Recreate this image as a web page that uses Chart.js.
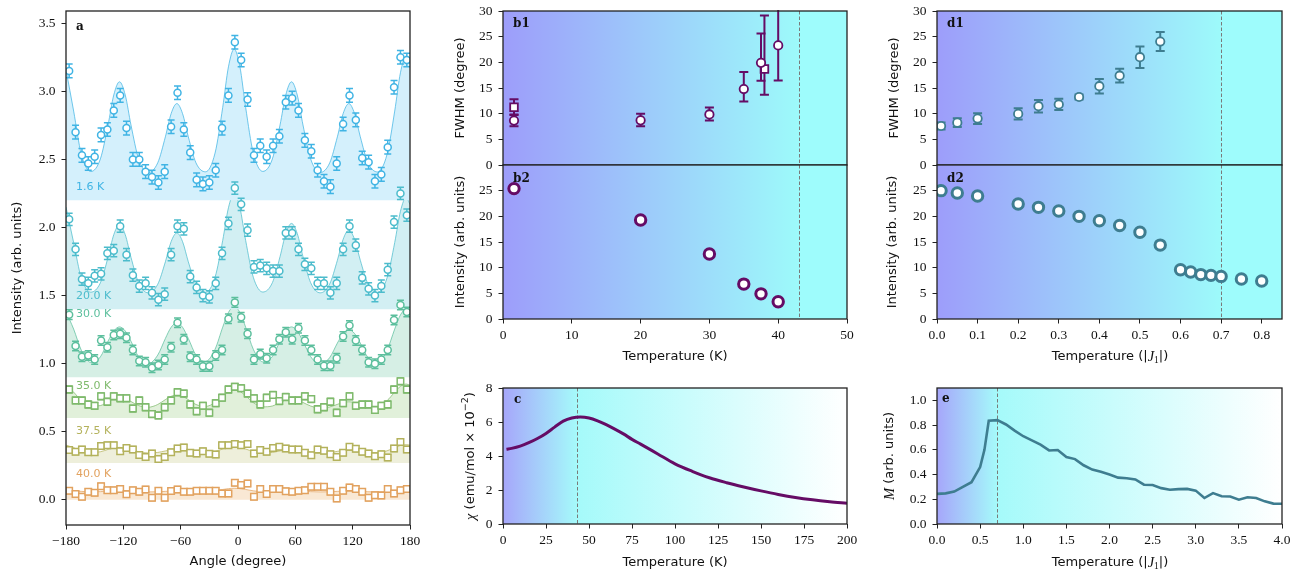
<!DOCTYPE html>
<html>
<head>
<meta charset="utf-8">
<script src="https://cdn.jsdelivr.net/npm/chart.js@4.4.1/dist/chart.umd.min.js"></script>
<style>
	html, body { margin: 0; padding: 0; background: #fff; }
	#wrap { position: relative; width: 1300px; height: 570px; overflow: hidden; }
	canvas { position: absolute; }
</style>
</head>
<body>
<div id="wrap">
	<canvas id="pa"></canvas>
	<canvas id="pb1"></canvas>
	<canvas id="pb2"></canvas>
	<canvas id="pc"></canvas>
	<canvas id="pd1"></canvas>
	<canvas id="pd2"></canvas>
	<canvas id="pe"></canvas>
</div>
<script>
// ---- panel a: angular scans ----
const angles = [-176.7, -170.0, -163.3, -156.7, -150.0, -143.3, -136.7, -130.0, -123.3, -116.7, -110.0, -103.3, -96.7, -90.0, -83.3, -76.7, -70.0, -63.3, -56.7, -50.0, -43.3, -36.7, -30.0, -23.3, -16.7, -10.0, -3.3, 3.3, 10.0, 16.7, 23.3, 30.0, 36.7, 43.3, 50.0, 56.7, 63.3, 70.0, 76.7, 83.3, 90.0, 96.7, 103.3, 110.0, 116.7, 123.3, 130.0, 136.7, 143.3, 150.0, 156.7, 163.3, 170.0, 176.7];
const scan16 = [3.15, 2.70, 2.53, 2.47, 2.52, 2.68, 2.72, 2.86, 2.97, 2.73, 2.50, 2.50, 2.41, 2.37, 2.33, 2.41, 2.74, 2.99, 2.72, 2.55, 2.35, 2.32, 2.33, 2.42, 2.73, 2.97, 3.36, 3.23, 2.94, 2.53, 2.60, 2.52, 2.60, 2.67, 2.92, 2.95, 2.86, 2.64, 2.56, 2.42, 2.34, 2.30, 2.47, 2.76, 2.97, 2.79, 2.51, 2.48, 2.34, 2.39, 2.59, 3.03, 3.25, 3.23];
const scan20 = [2.06, 1.84, 1.62, 1.59, 1.645, 1.66, 1.81, 1.83, 2.01, 1.80, 1.65, 1.57, 1.59, 1.52, 1.47, 1.51, 1.80, 2.01, 1.99, 1.64, 1.56, 1.50, 1.49, 1.59, 1.81, 2.03, 2.29, 2.17, 1.98, 1.71, 1.72, 1.70, 1.68, 1.68, 1.96, 1.96, 1.84, 1.73, 1.70, 1.59, 1.59, 1.52, 1.59, 1.84, 2.01, 1.87, 1.63, 1.55, 1.50, 1.57, 1.69, 2.04, 2.25, 2.09];
const scan30 = [1.36, 1.13, 1.05, 1.06, 1.03, 1.17, 1.12, 1.21, 1.22, 1.19, 1.10, 1.02, 1.01, 0.97, 0.99, 1.03, 1.12, 1.30, 1.18, 1.05, 1.03, 0.98, 0.98, 1.06, 1.10, 1.33, 1.45, 1.34, 1.22, 1.03, 1.07, 1.04, 1.10, 1.18, 1.23, 1.18, 1.26, 1.17, 1.10, 1.03, 0.985, 0.985, 1.04, 1.20, 1.28, 1.17, 1.10, 1.01, 1.00, 1.03, 1.10, 1.32, 1.43, 1.38];
const scan35 = [0.81, 0.73, 0.73, 0.70, 0.69, 0.76, 0.72, 0.76, 0.745, 0.745, 0.67, 0.73, 0.68, 0.63, 0.62, 0.68, 0.73, 0.79, 0.78, 0.70, 0.65, 0.69, 0.64, 0.71, 0.75, 0.81, 0.83, 0.82, 0.78, 0.745, 0.70, 0.75, 0.77, 0.725, 0.755, 0.73, 0.73, 0.76, 0.74, 0.665, 0.68, 0.72, 0.64, 0.71, 0.76, 0.69, 0.70, 0.70, 0.66, 0.69, 0.70, 0.81, 0.87, 0.81];
const scan375 = [0.365, 0.353, 0.37, 0.35, 0.35, 0.395, 0.40, 0.40, 0.357, 0.38, 0.37, 0.33, 0.315, 0.34, 0.30, 0.315, 0.35, 0.377, 0.385, 0.345, 0.34, 0.356, 0.338, 0.333, 0.40, 0.40, 0.41, 0.40, 0.41, 0.34, 0.365, 0.353, 0.38, 0.39, 0.377, 0.37, 0.37, 0.345, 0.328, 0.37, 0.36, 0.335, 0.315, 0.345, 0.39, 0.375, 0.353, 0.34, 0.32, 0.335, 0.31, 0.377, 0.425, 0.37];
const scan40 = [0.066, 0.042, 0.022, 0.059, 0.052, 0.10, 0.071, 0.071, 0.079, 0.04, 0.071, 0.059, 0.076, 0.015, 0.066, 0.015, 0.064, 0.076, 0.059, 0.059, 0.066, 0.066, 0.066, 0.066, 0.047, 0.047, 0.125, 0.108, 0.12, 0.022, 0.079, 0.042, 0.079, 0.079, 0.062, 0.059, 0.066, 0.071, 0.096, 0.096, 0.096, 0.059, 0.01, 0.066, 0.091, 0.079, 0.059, 0.015, 0.034, 0.032, 0.079, 0.047, 0.071, 0.079];

const fitAngles = [-180, -172, -164, -154, -144, -136, -130, -124, -118, -112, -104, -94, -84, -76, -70, -64, -58, -52, -44, -34, -24, -16, -10, -4, 2, 8, 16, 26, 36, 44, 50, 56, 62, 68, 76, 86, 96, 104, 110, 116, 122, 128, 136, 146, 156, 164, 170, 176, 180];
const fit16 = [3.16, 2.855, 2.538, 2.411, 2.504, 2.753, 2.973, 3.07, 2.973, 2.753, 2.504, 2.404, 2.475, 2.666, 2.836, 2.91, 2.836, 2.666, 2.475, 2.409, 2.547, 2.882, 3.18, 3.31, 3.18, 2.882, 2.547, 2.412, 2.504, 2.753, 2.973, 3.07, 2.973, 2.753, 2.504, 2.404, 2.475, 2.666, 2.836, 2.91, 2.836, 2.666, 2.475, 2.408, 2.538, 2.855, 3.137, 3.26, 3.20];
const fit20 = [2.15, 1.889, 1.63, 1.525, 1.594, 1.781, 1.947, 2.02, 1.947, 1.781, 1.594, 1.52, 1.583, 1.748, 1.896, 1.96, 1.896, 1.748, 1.583, 1.524, 1.635, 1.905, 2.145, 2.25, 2.145, 1.905, 1.635, 1.526, 1.595, 1.786, 1.956, 2.03, 1.956, 1.786, 1.595, 1.52, 1.586, 1.759, 1.913, 1.98, 1.913, 1.759, 1.586, 1.524, 1.63, 1.889, 2.119, 2.22, 2.17];
const fit30 = [1.381, 1.254, 1.099, 1.009, 1.05, 1.165, 1.24, 1.27, 1.24, 1.165, 1.05, 0.999, 1.063, 1.185, 1.267, 1.30, 1.267, 1.185, 1.063, 1.016, 1.106, 1.268, 1.376, 1.42, 1.376, 1.268, 1.106, 1.013, 1.052, 1.165, 1.239, 1.27, 1.239, 1.165, 1.052, 0.996, 1.045, 1.151, 1.221, 1.25, 1.221, 1.151, 1.045, 1.009, 1.099, 1.254, 1.358, 1.40, 1.381];
const fit35 = [0.842, 0.791, 0.728, 0.688, 0.692, 0.722, 0.742, 0.75, 0.742, 0.722, 0.692, 0.68, 0.70, 0.736, 0.76, 0.77, 0.76, 0.736, 0.70, 0.686, 0.714, 0.764, 0.797, 0.81, 0.797, 0.764, 0.714, 0.683, 0.689, 0.715, 0.733, 0.74, 0.733, 0.715, 0.689, 0.674, 0.682, 0.701, 0.715, 0.72, 0.715, 0.701, 0.682, 0.685, 0.728, 0.791, 0.833, 0.85, 0.842];
const fit375 = [0.402, 0.383, 0.36, 0.347, 0.353, 0.37, 0.381, 0.385, 0.381, 0.37, 0.353, 0.344, 0.348, 0.359, 0.367, 0.37, 0.367, 0.359, 0.348, 0.344, 0.355, 0.373, 0.385, 0.39, 0.385, 0.373, 0.355, 0.344, 0.348, 0.359, 0.367, 0.37, 0.367, 0.359, 0.348, 0.342, 0.346, 0.356, 0.362, 0.365, 0.362, 0.356, 0.346, 0.345, 0.36, 0.383, 0.399, 0.405, 0.402];
const fit40 = [0.074, 0.066, 0.062, 0.059, 0.06, 0.065, 0.068, 0.07, 0.068, 0.065, 0.06, 0.058, 0.059, 0.062, 0.064, 0.065, 0.064, 0.062, 0.059, 0.059, 0.066, 0.076, 0.082, 0.085, 0.082, 0.076, 0.066, 0.06, 0.06, 0.065, 0.068, 0.07, 0.068, 0.065, 0.06, 0.058, 0.059, 0.062, 0.064, 0.065, 0.064, 0.062, 0.059, 0.058, 0.062, 0.066, 0.072, 0.075, 0.074];

const scanLabels = ['1.6 K', '20.0 K', '30.0 K', '35.0 K', '37.5 K', '40.0 K'];
const scanBase = [2.2, 1.4, 0.9, 0.6, 0.27, 0.0];
const scanErr = [0.05, 0.045, 0.035, 0.025, 0.022, 0.022];
const scanLabelY = [2.30, 1.493, 1.363, 0.836, 0.505, 0.189];
const aXTicks = [-180, -120, -60, 0, 60, 120, 180];
const aYTicks = [0, 0.5, 1, 1.5, 2, 2.5, 3, 3.5];

// ---- panels b: experiment vs temperature ----
const b1CircT = [1.6, 20, 30, 35, 37.5, 40];
const b1CircW = [8.65, 8.7, 9.85, 14.8, 19.9, 23.3];
const b1CircLo = [1.1, 1.15, 1.2, 2.45, 3.5, 6.85];
const b1CircHi = [1.2, 1.3, 1.35, 3.3, 5.7, 8.0];
const b1SqT = [1.6, 38];
const b1SqW = [11.25, 18.7];
const b1SqLo = [1.5, 5.0];
const b1SqHi = [1.55, 10.4];
const b2T = [1.6, 20, 30, 35, 37.5, 40];
const b2I = [25.4, 19.3, 12.65, 6.8, 4.9, 3.35];
const bXTicks = [0, 10, 20, 30, 40, 50];
const tcKelvin = 43;

// ---- panel c: susceptibility ----
const cT = [2, 5, 10, 15, 20, 25, 30, 35, 40, 45, 50, 55, 60, 65, 70, 75, 80, 90, 100, 110, 120, 130, 140, 150, 160, 170, 180, 190, 200];
const cChi = [4.40, 4.45, 4.58, 4.78, 5.03, 5.33, 5.70, 6.05, 6.24, 6.30, 6.24, 6.07, 5.84, 5.58, 5.30, 4.98, 4.70, 4.12, 3.54, 3.10, 2.72, 2.43, 2.18, 1.95, 1.74, 1.56, 1.42, 1.31, 1.22];
const cXTicks = [0, 25, 50, 75, 100, 125, 150, 175, 200];
const cYTicks = [0, 2, 4, 6, 8];

// ---- panels d: simulation vs temperature ----
const d1T = [0.01, 0.05, 0.1, 0.2, 0.25, 0.3, 0.35, 0.4, 0.45, 0.5, 0.55];
const d1W = [7.6, 8.25, 9.05, 9.95, 11.45, 11.8, 13.25, 15.35, 17.4, 21.0, 24.05];
const d1Err = [0.7, 0.85, 1.05, 1.1, 1.2, 1.1, 0.5, 1.4, 1.35, 2.1, 1.85];
const d2T = [0.01, 0.05, 0.1, 0.2, 0.25, 0.3, 0.35, 0.4, 0.45, 0.5, 0.55, 0.6, 0.625, 0.65, 0.675, 0.7, 0.75, 0.8];
const d2I = [25.0, 24.55, 23.95, 22.4, 21.75, 21.05, 20.0, 19.15, 18.2, 16.9, 14.4, 9.6, 9.15, 8.65, 8.5, 8.3, 7.8, 7.4];
const dXTicks = [0, 0.1, 0.2, 0.3, 0.4, 0.5, 0.6, 0.7, 0.8];
const tcJ = 0.7;

// ---- panel e: magnetisation ----
const eT = [0, 0.1, 0.2, 0.3, 0.4, 0.5, 0.55, 0.6, 0.7, 0.8, 0.9, 1.0, 1.1, 1.2, 1.3, 1.4, 1.5, 1.6, 1.7, 1.8, 1.9, 2.0, 2.1, 2.2, 2.3, 2.4, 2.5, 2.6, 2.7, 2.8, 2.9, 3.0, 3.1, 3.2, 3.3, 3.4, 3.5, 3.6, 3.7, 3.8, 3.9, 4.0];
const eM = [0.244, 0.248, 0.262, 0.30, 0.338, 0.46, 0.60, 0.835, 0.84, 0.805, 0.755, 0.71, 0.677, 0.642, 0.595, 0.598, 0.542, 0.525, 0.475, 0.44, 0.422, 0.40, 0.375, 0.37, 0.36, 0.318, 0.316, 0.29, 0.277, 0.282, 0.284, 0.27, 0.21, 0.25, 0.224, 0.223, 0.197, 0.216, 0.21, 0.183, 0.165, 0.164];
const eXTicks = [0, 0.5, 1, 1.5, 2, 2.5, 3, 3.5, 4];
const eYTicks = [0, 0.2, 0.4, 0.6, 0.8, 1.0];
const wTicks = [0, 5, 10, 15, 20, 25, 30];
const iTicks = [0, 5, 10, 15, 20, 25];

// colours
const scanColors = ['#40b4e4', '#4cbccc', '#5cbf9d', '#7fba6c', '#b4b25c', '#e2a25f'];
const scanFills = ['#d4f0fc', '#d2eff3', '#d6efe5', '#e1f0da', '#eeefdb', '#f9e8d4'];
const purple = '#650c65';
const teal = '#3e7d90';

const sans = '"DejaVu Sans", sans-serif';
const serif = '"Liberation Serif", serif';
const tickFont = { family: serif, size: 13.5 };
Chart.defaults.font.family = serif;

const minus = (s) => s.replace('-', '\u2212');
const fmtInt = (v) => minus(String(Math.round(v)));
const fmt1 = (v) => minus(v.toFixed(1));

const pts = (xs, ys) => xs.map((x, i) => ({ x, y: ys[i] }));

const axis = (min, max, ticks, fmt, prop, size) => ({
	type: 'linear',
	min,
	max,
	afterBuildTicks: (s) => { s.ticks = ticks.map((value) => ({ value })); },
	afterFit: (s) => { s[prop] = size; },
	border: { display: false },
	grid: { drawOnChartArea: false, drawTicks: true, tickLength: 4.5, tickColor: '#222', tickWidth: 1 },
	ticks: { callback: fmt, font: tickFont, color: '#111', padding: prop === 'width' ? 6 : 4, maxRotation: 0, minRotation: 0, autoSkip: false },
});

const drawRich = (ctx, parts, x, y, rot) => {
	ctx.save();
	ctx.translate(x, y);
	if (rot) ctx.rotate(rot);
	ctx.textBaseline = 'middle';
	ctx.fillStyle = '#111';
	let w = 0;
	parts.forEach((p) => { ctx.font = p.f; w += ctx.measureText(p.t).width; });
	let cx = -w / 2;
	parts.forEach((p) => {
		ctx.font = p.f;
		ctx.fillText(p.t, cx, p.dy || 0);
		cx += ctx.measureText(p.t).width;
	});
	ctx.restore();
};

const sansFont = '13px ' + sans;
const ital = 'italic 14.5px ' + serif;
const txt = (t) => [{ t, f: sansFont }];
const tempJ = [{ t: 'Temperature (|', f: sansFont }, { t: 'J', f: ital }, { t: '1', f: '9.5px ' + serif, dy: 3 }, { t: '|)', f: sansFont }];

// background gradient, dashed Tc line, frame, titles
const panelPlugin = {
	id: 'panel',
	beforeDraw(chart, args, o) {
		const { ctx, chartArea: a, scales: { x } } = chart;
		if (o.stops) {
			const g = ctx.createLinearGradient(a.left, 0, a.right, 0);
			o.stops.forEach(([v, c]) => {
				const f = (x.getPixelForValue(v) - a.left) / a.width;
				g.addColorStop(Math.min(1, Math.max(0, f)), c);
			});
			ctx.save();
			ctx.fillStyle = g;
			ctx.fillRect(a.left, a.top, a.width, a.height);
			ctx.restore();
		}
	},
	beforeDatasetsDraw(chart, args, o) {
		if (o.vline === undefined) return;
		const { ctx, chartArea: a, scales: { x } } = chart;
		const px = Math.round(x.getPixelForValue(o.vline)) + 0.5;
		ctx.save();
		ctx.strokeStyle = '#7a7a7a';
		ctx.lineWidth = 1;
		ctx.setLineDash([3.5, 2]);
		ctx.beginPath();
		ctx.moveTo(px, a.top);
		ctx.lineTo(px, a.bottom);
		ctx.stroke();
		ctx.restore();
	},
	afterDraw(chart, args, o) {
		const { ctx, chartArea: a } = chart;
		ctx.save();
		ctx.strokeStyle = '#222';
		ctx.lineWidth = 1.3;
		ctx.strokeRect(a.left, a.top, a.width, a.height);
		const [ox, oy] = o.page;
		if (o.letter) {
			ctx.font = 'bold 12px "DejaVu Serif", serif';
			ctx.fillStyle = '#111';
			ctx.textBaseline = 'alphabetic';
			ctx.fillText(o.letter[0], o.letter[1] - ox, o.letter[2] - oy);
		}
		(o.titles || []).forEach((t) => drawRich(ctx, t.parts, t.x - ox, t.y - oy, t.rot ? -Math.PI / 2 : 0));
		ctx.restore();
	},
};

// error bars under the markers of a dataset
const errorBarPlugin = {
	id: 'errorBars',
	beforeDatasetDraw(chart, { index }) {
		const ds = chart.data.datasets[index];
		if (!ds.errLo) return;
		const { ctx, chartArea: a, scales: { x, y } } = chart;
		ctx.save();
		ctx.beginPath();
		ctx.rect(a.left, a.top - 1, a.width, a.height + 2);
		ctx.clip();
		ctx.strokeStyle = ds.borderColor;
		ctx.lineWidth = ds.errWidth || 1.4;
		const cap = ds.capSize || 3.5;
		ds.data.forEach((p, i) => {
			const px = x.getPixelForValue(p.x);
			const y1 = y.getPixelForValue(p.y - ds.errLo[i]);
			const y2 = y.getPixelForValue(p.y + ds.errHi[i]);
			ctx.beginPath();
			ctx.moveTo(px, y1); ctx.lineTo(px, y2);
			ctx.moveTo(px - cap, y1); ctx.lineTo(px + cap, y1);
			ctx.moveTo(px - cap, y2); ctx.lineTo(px + cap, y2);
			ctx.stroke();
		});
		ctx.restore();
	},
};

// temperature tags inside panel a
const scanTagPlugin = {
	id: 'scanTags',
	afterDatasetsDraw(chart) {
		const { ctx, scales: { x, y } } = chart;
		ctx.save();
		ctx.font = '11px ' + sans;
		ctx.textBaseline = 'middle';
		scanLabels.forEach((t, i) => {
			ctx.fillStyle = scanColors[i];
			ctx.fillText(t, x.getPixelForValue(-169.5), y.getPixelForValue(scanLabelY[i]));
		});
		ctx.restore();
	},
};

const makeChart = (id, box, data, scales, panel, extra = []) => {
	const el = document.getElementById(id);
	el.width = box.w;
	el.height = box.h;
	el.style.left = box.left + 'px';
	el.style.top = box.top + 'px';
	panel.page = [box.left, box.top];
	return new Chart(el, {
		type: 'scatter',
		data,
		options: {
			responsive: false,
			animation: false,
			events: [],
			layout: { padding: box.pad },
			plugins: { legend: { display: false }, tooltip: { enabled: false }, panel },
			scales,
		},
		plugins: [panelPlugin, errorBarPlugin, ...extra],
	});
};

const bStops = [[0, 'rgb(157,157,250)'], [tcKelvin, 'rgb(157,250,250)'], [tcKelvin + 0.01, 'rgb(158,252,252)'], [50, 'rgb(158,252,252)']];
const dStops = [[0, 'rgb(157,157,250)'], [tcJ, 'rgb(157,250,250)'], [tcJ + 0.001, 'rgb(158,252,252)'], [0.85, 'rgb(158,252,252)']];
const cStops = [[0, 'rgb(166,166,250)'], [tcKelvin, 'rgb(165,250,250)'], [200, 'rgb(255,255,255)']];
const eStops = [[0, 'rgb(166,166,250)'], [tcJ, 'rgb(165,250,250)'], [4, 'rgb(255,255,255)']];

// ---- build panel a ----
const scans = [scan16, scan20, scan30, scan35, scan375, scan40];
const fits = [fit16, fit20, fit30, fit35, fit375, fit40];
const aSets = [];
scans.forEach((s, i) => {
	aSets.push({
		data: pts(angles, s),
		order: 0,
		pointStyle: i < 3 ? 'circle' : 'rect',
		pointRadius: i < 3 ? 3.5 : 4.6,
		pointBorderWidth: 1.5,
		borderColor: scanColors[i],
		pointBackgroundColor: '#fff',
		errLo: s.map(() => scanErr[i]),
		errHi: s.map(() => scanErr[i]),
		errWidth: 1.5,
		capSize: 3.5,
	});
});
fits.forEach((f, i) => {
	aSets.push({
		type: 'line',
		data: pts(fitAngles, f),
		order: 1,
		showLine: true,
		pointRadius: 0,
		borderWidth: 1,
		borderColor: scanColors[i] + 'bb',
		backgroundColor: scanFills[i],
		fill: { value: scanBase[i] },
		cubicInterpolationMode: 'monotone',
	});
});

// canvases start 15px above their plot area so the tick-label padding never moves it
makeChart('pa', { left: 0, top: -4, w: 425, h: 574, pad: { left: 0, top: 15, right: 15, bottom: 0 } },
	{ datasets: aSets },
	{
		x: axis(-180, 180, aXTicks, fmtInt, 'height', 45),
		y: axis(-0.185, 3.59, aYTicks, fmt1, 'width', 66),
	},
	{
		letter: ['a', 76, 30],
		titles: [
			{ parts: txt('Intensity (arb. units)'), x: 18, y: 268, rot: true },
			{ parts: txt('Angle (degree)'), x: 238, y: 562 },
		],
	},
	[scanTagPlugin]);

// ---- b1 ----
makeChart('pb1', { left: 440, top: -4, w: 422, h: 184, pad: { left: 0, top: 15, right: 15, bottom: 15 } },
	{
		datasets: [
			{
				data: pts(b1CircT, b1CircW), pointStyle: 'circle', pointRadius: 4.2, pointBorderWidth: 1.8,
				borderColor: purple, pointBackgroundColor: '#fff', errLo: b1CircLo, errHi: b1CircHi, errWidth: 2, capSize: 4.5,
			},
			{
				data: pts(b1SqT, b1SqW), pointStyle: 'rect', pointRadius: 5.4, pointBorderWidth: 1.8,
				borderColor: purple, pointBackgroundColor: '#fff', errLo: b1SqLo, errHi: b1SqHi, errWidth: 2, capSize: 4.5,
			},
		],
	},
	{
		x: { type: 'linear', min: 0, max: 50, display: false },
		y: axis(0, 30, wTicks, fmtInt, 'width', 63),
	},
	{
		stops: bStops, vline: tcKelvin, letter: ['b1', 513, 27],
		titles: [{ parts: txt('FWHM (degree)'), x: 461, y: 88, rot: true }],
	});

// ---- b2 ----
makeChart('pb2', { left: 440, top: 150, w: 422, h: 220, pad: { left: 0, top: 15, right: 15, bottom: 0 } },
	{
		datasets: [{
			data: pts(b2T, b2I), pointStyle: 'circle', pointRadius: 5.2, pointBorderWidth: 3,
			borderColor: purple, pointBackgroundColor: '#fff',
		}],
	},
	{
		x: axis(0, 50, bXTicks, fmtInt, 'height', 51),
		y: axis(0, 30, iTicks, fmtInt, 'width', 63),
	},
	{
		stops: bStops, vline: tcKelvin, letter: ['b2', 513, 182],
		titles: [
			{ parts: txt('Intensity (arb. units)'), x: 461, y: 242, rot: true },
			{ parts: txt('Temperature (K)'), x: 675, y: 357 },
		],
	});

// ---- c ----
makeChart('pc', { left: 440, top: 373, w: 422, h: 197, pad: { left: 0, top: 15, right: 15, bottom: 0 } },
	{
		datasets: [{
			type: 'line', data: pts(cT, cChi), showLine: true, pointRadius: 0, borderWidth: 3,
			borderColor: purple, fill: false, cubicInterpolationMode: 'monotone',
		}],
	},
	{
		x: axis(0, 200, cXTicks, fmtInt, 'height', 46),
		y: axis(0, 8, cYTicks, fmtInt, 'width', 63),
	},
	{
		stops: cStops, vline: tcKelvin, letter: ['c', 514, 403],
		titles: [
			{
				parts: [{ t: '\u03c7', f: ital }, { t: ' (emu/mol \u00d7 10', f: sansFont }, { t: '\u22122', f: '9.5px ' + sans, dy: -5 }, { t: ')', f: sansFont }],
				x: 471, y: 456, rot: true,
			},
			{ parts: txt('Temperature (K)'), x: 675, y: 563 },
		],
	});

// ---- d1 ----
makeChart('pd1', { left: 870, top: -4, w: 427, h: 184, pad: { left: 0, top: 15, right: 15, bottom: 15 } },
	{
		datasets: [{
			data: pts(d1T, d1W), pointStyle: 'circle', pointRadius: 4.2, pointBorderWidth: 1.8,
			borderColor: teal, pointBackgroundColor: '#fff', errLo: d1Err, errHi: d1Err, errWidth: 2, capSize: 4.5,
		}],
	},
	{
		x: { type: 'linear', min: 0, max: 0.85, display: false },
		y: axis(0, 30, wTicks, fmtInt, 'width', 67),
	},
	{
		stops: dStops, vline: tcJ, letter: ['d1', 947, 27],
		titles: [{ parts: txt('FWHM (degree)'), x: 895, y: 88, rot: true }],
	});

// ---- d2 ----
makeChart('pd2', { left: 870, top: 150, w: 427, h: 220, pad: { left: 0, top: 15, right: 15, bottom: 0 } },
	{
		datasets: [{
			data: pts(d2T, d2I), pointStyle: 'circle', pointRadius: 5.2, pointBorderWidth: 3,
			borderColor: teal, pointBackgroundColor: '#fff',
		}],
	},
	{
		x: axis(0, 0.85, dXTicks, fmt1, 'height', 51),
		y: axis(0, 30, iTicks, fmtInt, 'width', 67),
	},
	{
		stops: dStops, vline: tcJ, letter: ['d2', 947, 182],
		titles: [
			{ parts: txt('Intensity (arb. units)'), x: 893, y: 242, rot: true },
			{ parts: tempJ, x: 1110, y: 357 },
		],
	});

// ---- e ----
makeChart('pe', { left: 870, top: 373, w: 427, h: 197, pad: { left: 0, top: 15, right: 15, bottom: 0 } },
	{
		datasets: [{
			type: 'line', data: pts(eT, eM), showLine: true, pointRadius: 0, borderWidth: 2.6,
			borderColor: teal, fill: false, tension: 0,
		}],
	},
	{
		x: axis(0, 4, eXTicks, fmt1, 'height', 46),
		y: axis(0, 1.1, eYTicks, fmt1, 'width', 67),
	},
	{
		stops: eStops, vline: tcJ, letter: ['e', 942, 402],
		titles: [
			{ parts: [{ t: 'M', f: ital }, { t: ' (arb. units)', f: sansFont }], x: 890, y: 456, rot: true },
			{ parts: tempJ, x: 1110, y: 563 },
		],
	});
</script>
</body>
</html>
